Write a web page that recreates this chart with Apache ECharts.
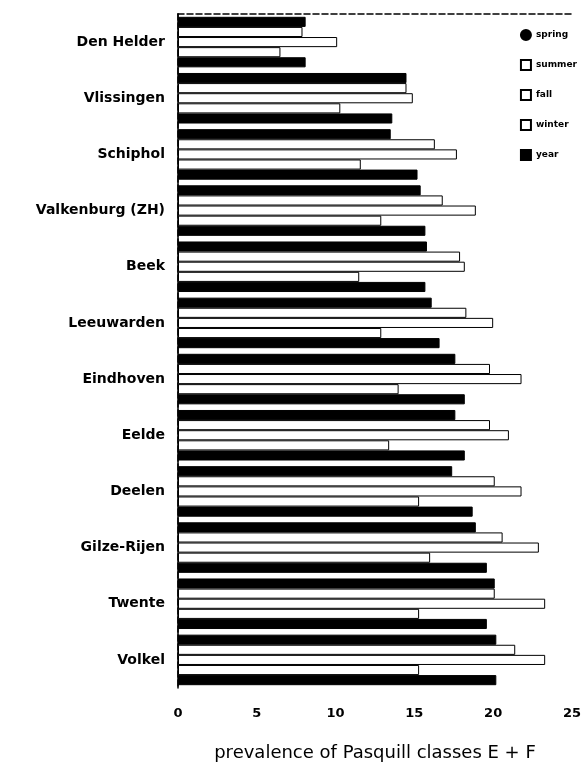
<!DOCTYPE html>
<html><head><meta charset="utf-8">
<script src="https://cdn.jsdelivr.net/npm/echarts@6/dist/echarts.min.js"></script>
<style>html,body{margin:0;padding:0;background:#fff}#c{width:584px;height:767px}</style>
</head><body><div id="c"></div>
<script>
var stations = ["Den Helder","Vlissingen","Schiphol","Valkenburg (ZH)","Beek","Leeuwarden","Eindhoven","Eelde","Deelen","Gilze-Rijen","Twente","Volkel"];
var spring = [8.1, 14.5, 13.5, 15.4, 15.8, 16.1, 17.6, 17.6, 17.4, 18.9, 20.1, 20.2];
var summer = [7.9, 14.5, 16.3, 16.8, 17.9, 18.3, 19.8, 19.8, 20.1, 20.6, 20.1, 21.4];
var fall   = [10.1, 14.9, 17.7, 18.9, 18.2, 20.0, 21.8, 21.0, 21.8, 22.9, 23.3, 23.3];
var winter = [6.5, 10.3, 11.6, 12.9, 11.5, 12.9, 14.0, 13.4, 15.3, 16.0, 15.3, 15.3];
var year   = [8.1, 13.6, 15.2, 15.7, 15.7, 16.6, 18.2, 18.2, 18.7, 19.6, 19.6, 20.2];
var xTicks = [0, 5, 10, 15, 20, 25];
var seriesNames = ["spring","summer","fall","winter","year"];

var font = "DejaVu Sans";
function mk(name, data, fill) {
  return {
    name: name, type: 'bar', data: data,
    barGap: '0%', barCategoryGap: '10%',
    itemStyle: { color: fill, borderColor: '#000', borderWidth: 1 },
    silent: true
  };
}
var chart = echarts.init(document.getElementById('c'), null, {renderer: 'canvas'});
chart.setOption({
  animation: false,
  backgroundColor: '#fff',
  grid: { left: 178, right: 6, top: 14, bottom: 79, containLabel: false },
  legend: {
    orient: 'vertical', right: 2, top: 24, itemGap: 18,
    itemWidth: 10, itemHeight: 10,
    data: [
      {name: seriesNames[0], icon: 'circle'},
      {name: seriesNames[1], icon: 'rect'},
      {name: seriesNames[2], icon: 'rect'},
      {name: seriesNames[3], icon: 'rect'},
      {name: seriesNames[4], icon: 'rect'}
    ],
    textStyle: { fontFamily: font, fontSize: 9, color: '#000', fontWeight: 'bold' }
  },
  xAxis: [{
    type: 'value', min: 0, max: 25, interval: 5, position: 'bottom',
    axisLine: { show: false }, axisTick: { show: false }, splitLine: { show: false },
    axisLabel: { fontFamily: font, fontSize: 13, fontWeight: 'bold', color: '#000', margin: 19,
      formatter: function (v) { return xTicks.indexOf(v) >= 0 ? String(v) : ''; } },
    name: 'prevalence of Pasquill classes E + F', nameLocation: 'middle', nameGap: 56,
    nameTextStyle: { fontFamily: font, fontSize: 18, color: '#000' }
  }, {
    type: 'value', min: 0, max: 25, position: 'top',
    axisLine: { show: true, lineStyle: { color: '#000', type: 'dashed', width: 1.5 } },
    axisTick: { show: false }, axisLabel: { show: false }, splitLine: { show: false }
  }],
  yAxis: [{
    type: 'category', data: stations, inverse: true, position: 'left',
    axisLine: { show: true, lineStyle: { color: '#000', width: 1.5 } },
    axisTick: { show: false },
    axisLabel: { fontFamily: font, fontSize: 14, fontWeight: 'bold', color: '#000', margin: 13 }
  }, {
    type: 'category', data: stations, inverse: true, position: 'right',
    axisLine: { show: true, lineStyle: { color: '#000', type: 'dashed', width: 1.5 } },
    axisTick: { show: false }, axisLabel: { show: false }
  }],
  series: [
    mk('spring', spring, '#000'),
    mk('summer', summer, '#fff'),
    mk('fall', fall, '#fff'),
    mk('winter', winter, '#fff'),
    mk('year', year, '#000')
  ]
});
</script></body></html>
